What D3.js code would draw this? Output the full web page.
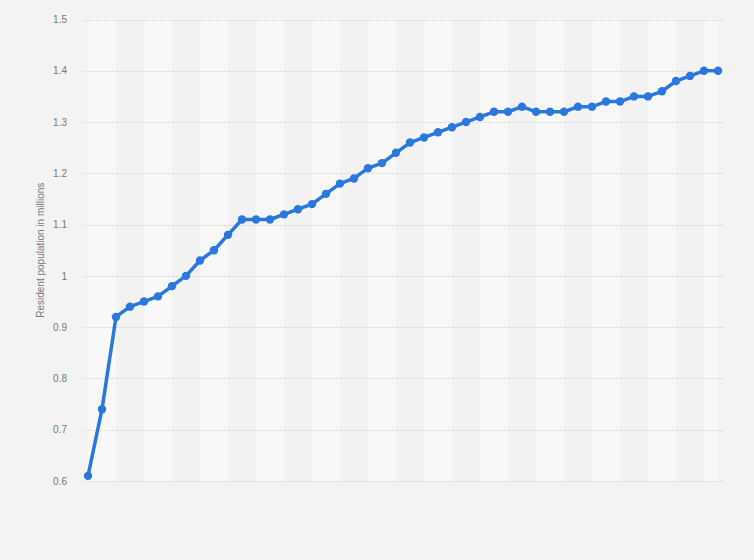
<!DOCTYPE html>
<html>
<head>
<meta charset="utf-8">
<script src="https://cdn.jsdelivr.net/npm/d3@7"></script>
<style>
  html, body { margin: 0; padding: 0; background: #f3f3f3; }
  svg { display: block; }
</style>
</head>
<body>
<svg id="chart" width="754" height="560"></svg>
<script>
// Category index (x labels are not shown in the original chart)
const categories = d3.range(1, 47);
const values = [0.61, 0.74, 0.92, 0.94, 0.95, 0.96, 0.98, 1.00, 1.03, 1.05,
                1.08, 1.11, 1.11, 1.11, 1.12, 1.13, 1.14, 1.16, 1.18, 1.19,
                1.21, 1.22, 1.24, 1.26, 1.27, 1.28, 1.29, 1.30, 1.31, 1.32,
                1.32, 1.33, 1.32, 1.32, 1.32, 1.33, 1.33, 1.34, 1.34, 1.35,
                1.35, 1.36, 1.38, 1.39, 1.40, 1.40];
const yTicks = [0.6, 0.7, 0.8, 0.9, 1.0, 1.1, 1.2, 1.3, 1.4, 1.5];
const yTitle = "Resident population in millions";

const svg = d3.select("#chart");
const W = 754, H = 560;
svg.append("rect").attr("width", W).attr("height", H).attr("fill", "#f3f3f3");

const x = d3.scalePoint().domain(categories).range([88, 718]);
const y = d3.scaleLinear().domain([0.6, 1.5]).range([481, 19.5]);
const step = x.step();

// alternating bands (two categories wide)
const bandStarts = categories.filter((d, i) => i % 2 === 0);
svg.append("g").selectAll("rect").data(bandStarts).join("rect")
  .attr("x", d => x(d))
  .attr("width", d => Math.min(2 * step, 718 - x(d)))
  .attr("y", y(1.5))
  .attr("height", y(0.6) - y(1.5))
  .attr("fill", (d, i) => i % 2 === 0 ? "#f8f8f8" : "#f2f2f2");

// gridlines + tick labels
const yAxis = d3.axisLeft(y).tickValues(yTicks).tickSize(0).tickPadding(0)
  .tickFormat(d => d3.format("")(+d.toFixed(1)));
const gy = svg.append("g").attr("transform", "translate(67,0)").call(yAxis);
gy.select(".domain").remove();
gy.selectAll("text")
  .attr("font-family", "'Liberation Sans', Arial, sans-serif")
  .attr("font-size", 10)
  .attr("fill", "#777");

svg.append("g").selectAll("line").data(yTicks).join("line")
  .attr("x1", 82).attr("x2", 724)
  .attr("y1", d => Math.round(y(d)) + 0.5).attr("y2", d => Math.round(y(d)) + 0.5)
  .attr("stroke", "#d4d4d4")
  .attr("stroke-width", 1)
  .attr("stroke-dasharray", "1,1");

// axis title
svg.append("text")
  .attr("transform", `translate(44,${(y(0.6) + y(1.5)) / 2}) rotate(-90)`)
  .attr("text-anchor", "middle")
  .attr("font-family", "'Liberation Sans', Arial, sans-serif")
  .attr("font-size", 10)
  .attr("fill", "#777")
  .text(yTitle);

// line
const data = categories.map((c, i) => ({ c, v: values[i] }));
svg.append("path").datum(data)
  .attr("fill", "none")
  .attr("stroke", "#2a77dd")
  .attr("stroke-width", 3.5)
  .attr("stroke-linejoin", "round")
  .attr("d", d3.line().x(d => x(d.c)).y(d => y(d.v)));

svg.append("g").selectAll("circle").data(data).join("circle")
  .attr("cx", d => x(d.c))
  .attr("cy", d => y(d.v))
  .attr("r", 4.2)
  .attr("fill", "#2a77dd");
</script>
</body>
</html>
